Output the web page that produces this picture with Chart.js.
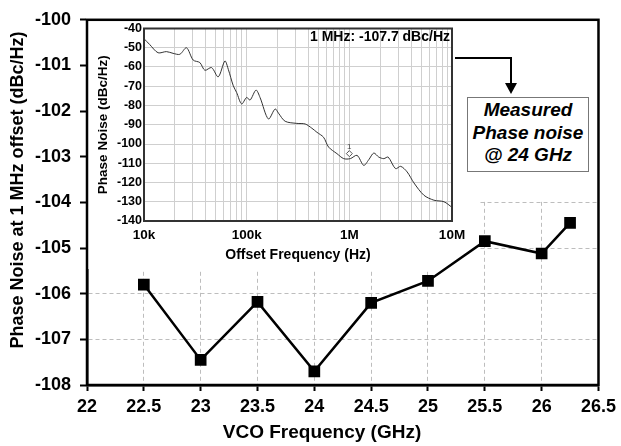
<!DOCTYPE html>
<html>
<head>
<meta charset="utf-8">
<script src="https://cdn.jsdelivr.net/npm/chart.js@4/dist/chart.umd.min.js"></script>
<style>
  body { margin: 0; background: #fff; }
  #wrap { position: relative; width: 621px; height: 446px; }
  #mainChart { position: absolute; left: 0; top: 0; }
  #insetChart { position: absolute; left: 89px; top: 19px; }
  #note {
    position: absolute; left: 467px; top: 97px; width: 120px; height: 72px;
    border: 1px solid #777; background: #fff;
    font: italic bold 19px "Liberation Sans", Arial, sans-serif;
    line-height: 22.5px; text-align: center; padding-top: 1px; color: #000;
  }
</style>
</head>
<body>
<div id="wrap">
  <canvas id="mainChart" width="621" height="446"></canvas>
  <canvas id="insetChart" width="393" height="249"></canvas>
  <div id="note">Measured<br>Phase noise<br>@ 24 GHz</div>
</div>
<script>
// main plot: phase noise at 1 MHz offset vs VCO frequency
const vcoFreq = [22.5, 23, 23.5, 24, 24.5, 25, 25.5, 26, 26.25];
const phaseNoise = [-105.8, -107.45, -106.18, -107.7, -106.2, -105.72, -104.85, -105.12, -104.45];

// inset: measured phase noise spectrum @ 24 GHz
const offsetFreq = [10000, 11350, 13710, 16520, 19190, 22340, 25940, 30130, 34990, 39170,
  45500, 52840, 61380, 66220, 74130, 79800, 89330, 100000, 107900, 123300,
  134900, 162900, 189200, 204200, 237100, 308300, 371500, 431500, 483100, 561000,
  628100, 756800, 881000, 1023000, 1189000, 1380000, 1545000, 1730000, 1936000, 2168000,
  2388000, 2818000, 3162000, 3656000, 4256000, 5321000, 6668000, 8356000, 10000000];
const noiseCurve = [-45.3, -48.3, -52.6, -52, -52.9, -53.4, -50, -56.4, -57.7, -61.7,
  -60.3, -65.1, -56.9, -61.2, -69.8, -73.2, -79.2, -75.8, -77.2, -72,
  -75.8, -87, -81.8, -84, -88.2, -89.3, -89.6, -91.8, -93.9, -96.5,
  -101.6, -105, -107.6, -107.6, -105.9, -111.1, -108.2, -104.7, -106.8, -107.6,
  -106.8, -112.8, -111.6, -114.5, -120.2, -126.6, -129.2, -130, -132.9];
const markerFreq = [1000000];
const markerNoise = [-105];
const decadeTicks = [10000, 100000, 1000000, 10000000];
const decadeLabels = ['10k', '100k', '1M', '10M'];

Chart.defaults.font.family = '"Liberation Sans", Arial, sans-serif';
Chart.defaults.color = '#000';

const mainDecor = {
  id: 'mainDecor',
  beforeDatasetsDraw(chart) {
    const {ctx, chartArea: a, scales: {x, y}} = chart;
    ctx.save();
    ctx.fillStyle = '#fff';
    // area hidden behind the pasted inset / note
    ctx.fillRect(a.left + 1, a.top + 1, a.right - a.left - 2, y.getPixelForValue(-104) - a.top - 2);
    ctx.fillRect(a.left + 1, a.top + 1, x.getPixelForValue(25.5) - 7 - a.left, 268 - a.top);
    ctx.restore();
  },
  afterDraw(chart) {
    const {ctx, chartArea: a} = chart;
    ctx.save();
    ctx.strokeStyle = '#000';
    ctx.lineWidth = 2.5;
    ctx.strokeRect(a.left, a.top, a.right - a.left, a.bottom - a.top);

    // arrow from inset to note
    ctx.lineWidth = 2;
    ctx.beginPath();
    ctx.moveTo(455, 58);
    ctx.lineTo(511, 58);
    ctx.lineTo(511, 86);
    ctx.stroke();
    ctx.fillStyle = '#000';
    ctx.beginPath();
    ctx.moveTo(505, 83);
    ctx.lineTo(517, 83);
    ctx.lineTo(511, 94);
    ctx.closePath();
    ctx.fill();

    // axis titles
    ctx.fillStyle = '#000';
    ctx.textAlign = 'center';
    ctx.textBaseline = 'middle';
    ctx.font = 'bold 19px "Liberation Sans", Arial, sans-serif';
    ctx.fillText('VCO Frequency (GHz)', 322, 433);
    ctx.translate(18, 190);
    ctx.rotate(-Math.PI / 2);
    ctx.font = 'bold 18px "Liberation Sans", Arial, sans-serif';
    ctx.fillText('Phase Noise at 1 MHz offset (dBc/Hz)', 0, 0);
    ctx.restore();
  }
};

new Chart(document.getElementById('mainChart'), {
  type: 'line',
  data: {
    datasets: [{
      data: vcoFreq.map((f, i) => ({x: f, y: phaseNoise[i]})),
      borderColor: '#000',
      backgroundColor: '#000',
      borderWidth: 2.5,
      pointStyle: 'rect',
      pointRadius: 6.5,
      pointHoverRadius: 6.5,
      tension: 0
    }]
  },
  options: {
    responsive: false,
    animation: false,
    layout: {padding: {top: 17, right: 20, left: 0, bottom: 0}},
    plugins: {legend: {display: false}, tooltip: {enabled: false}},
    scales: {
      x: {
        type: 'linear', min: 22, max: 26.5,
        afterFit(s) { s.height = 61; },
        ticks: {stepSize: 0.5, font: {size: 18, weight: 'bold'}, padding: 5, maxRotation: 0, autoSkip: false,
          callback: v => String(v)},
        grid: {color: '#bdbdbd', lineWidth: 1, tickColor: '#000', tickWidth: 2, tickLength: 6, tickBorderDash: []},
        border: {display: true, color: '#000', width: 2.5, dash: [4, 3]}
      },
      y: {
        min: -108, max: -100,
        afterFit(s) { s.width = 87; },
        ticks: {stepSize: 1, font: {size: 18, weight: 'bold'}, padding: 9},
        grid: {color: '#bdbdbd', lineWidth: 1, tickColor: '#000', tickWidth: 2, tickLength: 7, tickBorderDash: []},
        border: {display: true, color: '#000', width: 2.5, dash: [4, 3]}
      }
    }
  },
  plugins: [mainDecor]
});

const insetDecor = {
  id: 'insetDecor',
  afterDatasetsDraw(chart) {
    const {ctx, chartArea: a, scales: {x, y}} = chart;
    ctx.save();
    ctx.strokeStyle = '#333';
    ctx.lineWidth = 2;
    ctx.strokeRect(a.left, a.top, a.right - a.left, a.bottom - a.top);
    ctx.fillStyle = '#000';
    ctx.font = 'bold 14px "Liberation Sans", Arial, sans-serif';
    ctx.textAlign = 'right';
    ctx.textBaseline = 'middle';
    ctx.fillText('1 MHz: -107.7 dBc/Hz', a.right - 2, a.top + 9);
    ctx.font = '8px "Liberation Sans", Arial, sans-serif';
    ctx.textAlign = 'center';
    ctx.fillStyle = '#444';
    ctx.fillText('1', x.getPixelForValue(markerFreq[0]), y.getPixelForValue(markerNoise[0]) - 7);
    ctx.restore();
  }
};

const gridValues = [];
for (let e = 4; e < 7; e++) {
  for (let m = 1; m < 10; m++) gridValues.push(m * Math.pow(10, e));
}
gridValues.push(10000000);

new Chart(document.getElementById('insetChart'), {
  type: 'line',
  data: {
    datasets: [{
      data: offsetFreq.map((f, i) => ({x: f, y: noiseCurve[i]})),
      borderColor: '#333',
      borderWidth: 1,
      pointRadius: 0,
      tension: 0.3
    }, {
      data: markerFreq.map((f, i) => ({x: f, y: markerNoise[i]})),
      showLine: false,
      borderColor: '#555',
      backgroundColor: '#fff',
      borderWidth: 1,
      pointStyle: 'rectRot',
      pointRadius: 3
    }]
  },
  options: {
    responsive: false,
    animation: false,
    layout: {padding: {top: 8, right: 30, left: 0, bottom: 0}},
    plugins: {legend: {display: false}, tooltip: {enabled: false}},
    scales: {
      x: {
        type: 'logarithmic', min: 10000, max: 10000000,
        afterFit(s) { s.height = 47; },
        afterBuildTicks(s) { s.ticks = gridValues.map(v => ({value: v})); },
        ticks: {
          autoSkip: false, maxRotation: 0, padding: 6,
          font: {size: 13.5, weight: 'bold'},
          callback: v => {
            const k = decadeTicks.indexOf(v);
            return k >= 0 ? decadeLabels[k] : '';
          }
        },
        grid: {color: '#cfcfcf', lineWidth: 1, drawTicks: false},
        border: {display: false},
        title: {display: true, text: 'Offset Frequency (Hz)', font: {size: 14, weight: 'bold'}, padding: {top: 0, bottom: 4}}
      },
      y: {
        min: -140, max: -40,
        afterFit(s) { s.width = 55; },
        ticks: {stepSize: 10, font: {size: 12.5, weight: 'bold'}, padding: 2},
        grid: {color: '#cfcfcf', lineWidth: 1, drawTicks: false},
        border: {display: false},
        title: {display: true, text: 'Phase Noise (dBc/Hz)', font: {size: 13.5, weight: 'bold'}, padding: {top: 6, bottom: 0}}
      }
    }
  },
  plugins: [insetDecor]
});
</script>
</body>
</html>
